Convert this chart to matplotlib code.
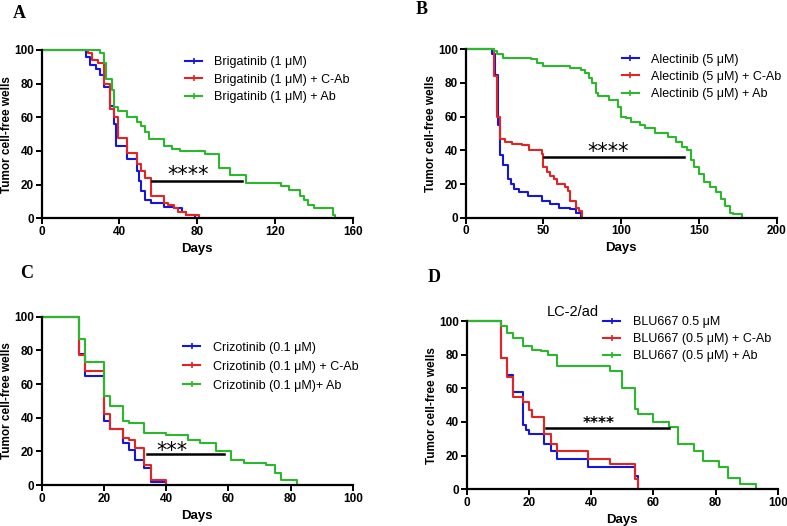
import matplotlib
matplotlib.use("Agg")
import matplotlib.pyplot as plt
from matplotlib.lines import Line2D

plt.rcParams["font.family"] = ["Liberation Sans", "DejaVu Sans"]

BLUE = "#1616d8"
RED = "#e42424"
GREEN = "#2cb82c"

# ---- panel A: brigatinib ----
a_blue_t = [0, 23, 25, 28, 30, 32, 35, 37, 38, 44, 49, 50, 51, 53, 56, 63, 68, 72, 74, 79]
a_blue_s = [100, 96, 91, 89, 85, 78, 67, 56, 43, 35, 28, 22, 16, 11, 9, 7, 6, 4, 2, 0]
a_red_t = [0, 24, 26, 29, 32, 35, 37, 39, 44, 49, 51, 53, 56, 63, 65, 68, 70, 74, 81]
a_red_s = [100, 98, 94, 92, 80, 65, 60, 48, 39, 32, 28, 24, 13, 9, 8, 6, 4, 2, 0]
a_green_t = [0, 30, 32, 33, 36, 37, 39, 44, 49, 51, 53, 55, 63, 67, 71, 84, 91, 97, 105,
             123, 127, 133, 135, 137, 140, 150, 151]
a_green_s = [100, 98, 92, 83, 76, 66, 64, 60, 57, 55, 51, 47, 43, 41, 40, 38, 30, 26, 21,
             19, 17, 13, 11, 8, 6, 2, 0]

# ---- panel B: alectinib ----
b_blue_t = [0, 17, 19, 21, 22, 24, 27, 29, 31, 34, 40, 49, 54, 60, 67, 71, 74]
b_blue_s = [100, 97, 85, 55, 37, 31, 23, 20, 17, 15, 13, 10, 8, 6, 5, 3, 0]
b_red_t = [0, 18, 20, 22, 25, 30, 36, 41, 49, 50, 52, 54, 57, 59, 64, 66, 67, 71, 73, 75]
b_red_s = [100, 84, 60, 47, 45, 44, 43, 40, 38, 30, 27, 25, 23, 20, 18, 16, 10, 6, 4, 0]
b_green_t = [0, 18, 20, 24, 28, 42, 46, 50, 67, 74, 77, 79, 81, 84, 85, 92, 98, 100, 103,
             106, 112, 115, 122, 130, 135, 139, 142, 145, 147, 150, 153, 157, 161, 164,
             167, 170, 172, 178]
b_green_s = [100, 99, 97, 95, 95, 94, 92, 90, 89, 88, 86, 83, 80, 74, 72, 70, 66, 60, 59,
             57, 55, 53, 50, 48, 45, 42, 40, 34, 30, 26, 21, 18, 15, 11, 7, 3, 2, 0]

# ---- panel C: crizotinib ----
c_blue_t = [0, 12, 14, 20, 22, 26, 28, 30, 33, 35, 40]
c_blue_s = [100, 78, 65, 38, 33, 25, 21, 15, 10, 2, 0]
c_red_t = [0, 12, 14, 20, 22, 26, 28, 30, 33, 35, 40]
c_red_s = [100, 77, 68, 42, 33, 28, 27, 22, 12, 3, 0]
c_green_t = [0, 12, 14, 20, 22, 26, 28, 33, 40, 47, 51, 56, 61, 65, 72, 75, 77, 82]
c_green_s = [100, 87, 73, 53, 47, 38, 37, 31, 30, 27, 25, 20, 15, 13, 12, 7, 3, 0]

# ---- panel D: BLU667 ----
d_blue_t = [0, 11, 13, 15, 18, 19, 20, 25, 27, 29, 39, 54, 55]
d_blue_s = [100, 78, 68, 58, 38, 35, 33, 27, 23, 18, 13, 8, 0]
d_red_t = [0, 11, 13, 15, 18, 20, 21, 25, 27, 29, 39, 46, 54, 55]
d_red_s = [100, 78, 67, 55, 52, 47, 43, 33, 27, 23, 18, 15, 6, 0]
d_green_t = [0, 11, 13, 15, 18, 21, 24, 26, 29, 46, 50, 54, 55, 60, 65, 68, 73, 76, 81,
             84, 88, 93]
d_green_s = [100, 97, 93, 90, 85, 83, 82, 80, 73, 70, 60, 48, 45, 40, 37, 27, 23, 17, 13,
             7, 3, 0]

W, H = 787, 526


def px_rect(left, top, right, bottom):
    return [left / W, 1 - bottom / H, (right - left) / W, (bottom - top) / H]


def draw_panel(fig, rect, series, labels, xmax, xstep, sig, bar, star_xy,
               legend_anchor, label_sp, star_size=15, star_weight="normal"):
    ax = fig.add_axes(rect)
    for (t, s), color, lab in zip(series, (BLUE, RED, GREEN), labels):
        ax.step(t, s, where="post", color=color, lw=1.5, clip_on=False, label=lab)
    x0, x1, y = bar
    ax.plot([x0, x1], [y, y], color="black", lw=1.8)
    ax.annotate(sig, xy=star_xy, xytext=(0, -0.38 * star_size), textcoords="offset points",
                ha="center", va="baseline", fontsize=star_size, fontweight=star_weight,
                family="DejaVu Sans")
    ax.set_xlim(0, xmax)
    ax.set_ylim(0, 100)
    ax.set_xticks(range(0, xmax + 1, xstep))
    ax.set_yticks(range(0, 101, 20))
    for side in ("top", "right"):
        ax.spines[side].set_visible(False)
    for side in ("left", "bottom"):
        ax.spines[side].set_linewidth(1.6)
    ax.tick_params(width=1.4, length=4, labelsize=8.5, pad=1.5)
    for lbl in ax.get_xticklabels() + ax.get_yticklabels():
        lbl.set_fontweight("bold")
    ax.set_xlabel("Days", fontweight="bold", fontsize=9.5, labelpad=3.5)
    ax.set_ylabel("Tumor cell-free wells", fontweight="bold", fontsize=8.5, labelpad=0.8)
    handles = [Line2D([], [], color=c, lw=1.5, marker="|", ms=4, mew=1.2)
               for c in (BLUE, RED, GREEN)]
    ax.legend(handles, labels, loc="upper left", bbox_to_anchor=legend_anchor,
              frameon=False, fontsize=9, handlelength=1.35, handletextpad=1.0,
              labelspacing=label_sp, borderpad=0, borderaxespad=0)
    return ax


fig = plt.figure(figsize=(7.87, 5.26), dpi=100)

draw_panel(fig, px_rect(41.7, 50, 352.7, 218.3),
           [(a_blue_t, a_blue_s), (a_red_t, a_red_s), (a_green_t, a_green_s)],
           ["Brigatinib (1 μM)", "Brigatinib (1 μM) + C-Ab", "Brigatinib (1 μM) + Ab"],
           160, 40, "****", (56.5, 103, 22.3), (75.3, 27.0), (0.461, 0.962), 0.42)

draw_panel(fig, px_rect(465.7, 49.3, 776.7, 217.7),
           [(b_blue_t, b_blue_s), (b_red_t, b_red_s), (b_green_t, b_green_s)],
           ["Alectinib (5 μM)", "Alectinib (5 μM) + C-Ab", "Alectinib (5 μM) + Ab"],
           200, 50, "****", (50.5, 140.5, 36.2), (91.5, 40.3), (0.502, 0.975), 0.42)

draw_panel(fig, px_rect(41.7, 316.7, 352.7, 485),
           [(c_blue_t, c_blue_s), (c_red_t, c_red_s), (c_green_t, c_green_s)],
           ["Crizotinib (0.1 μM)", "Crizotinib (0.1 μM) + C-Ab", "Crizotinib (0.1 μM)+ Ab"],
           100, 20, "***", (34, 58.5, 18.4), (42.0, 21.4), (0.455, 0.851), 0.55)

draw_panel(fig, px_rect(466.7, 321, 777.7, 489.3),
           [(d_blue_t, d_blue_s), (d_red_t, d_red_s), (d_green_t, d_green_s)],
           ["BLU667 0.5 μM", "BLU667 (0.5 μM) + C-Ab", "BLU667 (0.5 μM) + Ab"],
           100, 20, "****", (25.5, 65.2, 36.2), (42.3, 39.8), (0.439, 1.03), 0.4,
           star_size=11, star_weight="bold")
fig.text(546.7 / W, 1 - 311.7 / H, "LC-2/ad", fontsize=10.5, ha="left", va="center")

for letter, x, y in (("A", 19, 14), ("B", 422, 9), ("C", 27, 274), ("D", 434, 277)):
    fig.text(x / W, 1 - y / H, letter, fontsize=13, fontweight="bold",
             family="Liberation Serif", ha="center", va="center")

fig.savefig("out.png", dpi=100)
